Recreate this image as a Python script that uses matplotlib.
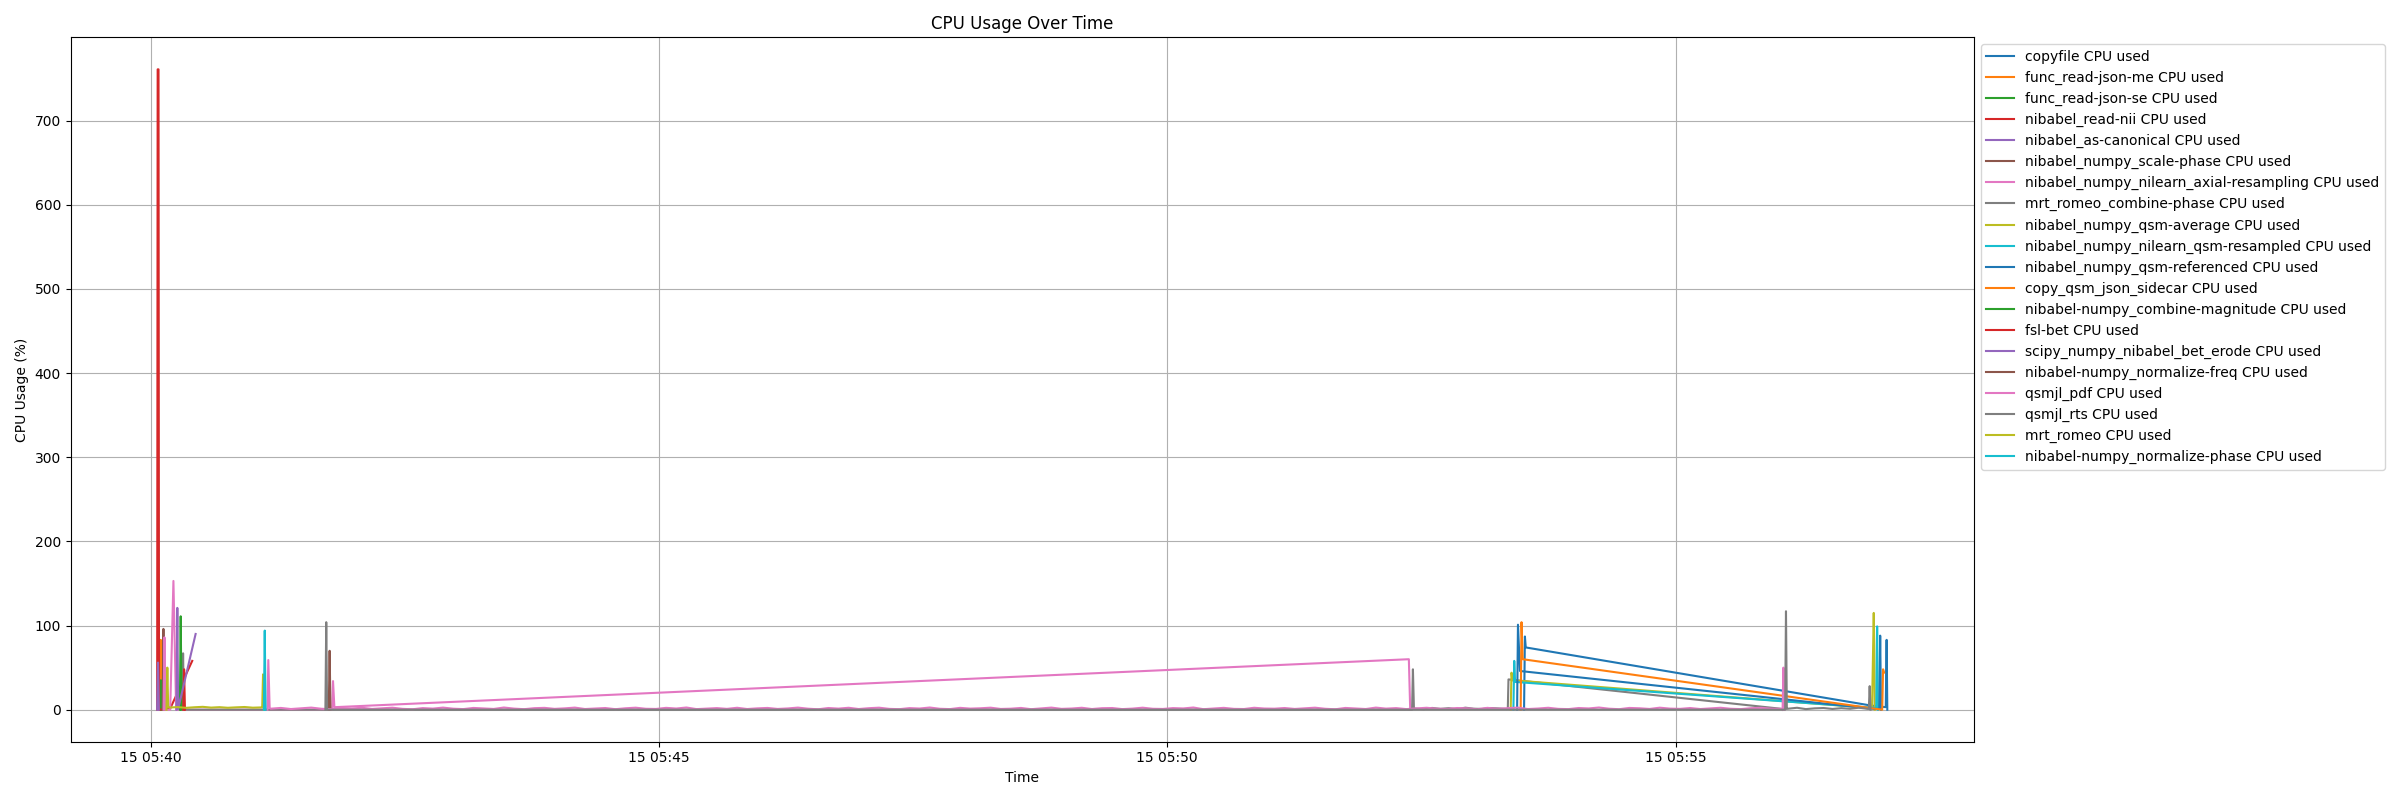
import datetime as dt
import numpy as np
import matplotlib.pyplot as plt

# sample times are seconds after 05:40:00, values are CPU %
start = dt.datetime(2024, 3, 15, 5, 40, 0)

copyfile_t = [810.6, 811.1, 811.6, 1015.2, 1024.1, 1024.6, 1025.0]
copyfile_v = [0, 87, 74, 5, 3, 83, 0]
read_json_me_t = [5.4, 5.9, 6.4]
read_json_me_v = [0, 83, 0]
read_json_se_t = [5.6, 6.0, 6.5]
read_json_se_v = [0, 35, 0]
read_nii_t = [3.8, 4.1, 4.6, 4.9, 11.4, 24.5]
read_nii_v = [0, 761, 761, 0, 1, 58]
as_canonical_t = [3.8, 4.3, 4.8]
as_canonical_v = [0, 56, 0]
scale_phase_t = [7.0, 7.5, 8.0]
scale_phase_v = [0, 96, 0]
axial_t = [7.6, 8.1, 8.6, 11.5, 13.4, 15.0, 107.1, 107.6, 108.4, 742.6, 743.4]
axial_v = [0, 86, 0, 0, 153, 0, 0, 34, 3, 60, 0]
combine_phase_t = [18.6, 19.1, 19.6, 744.5, 745.0, 745.6]
combine_phase_v = [0, 67, 0, 0, 48, 1]
combine_phase_idle = [1.4, 0.6, 2.1, 1.0, 1.8, 0.7, 2.4, 1.2, 0.9, 2.0, 1.5, 0.8]
combine_phase_end_t = [801.0, 801.4, 962.8, 963.2]
combine_phase_end_v = [1, 36, 1, 0]
qsm_average_t = [802.7, 803.2, 803.7, 1016.0, 1017.0, 1017.3, 1017.6]
qsm_average_v = [0, 44, 35, 2, 115, 75, 0]
qsm_resampled_t = [804.3, 804.8, 805.3, 1018.5, 1019.0, 1019.5]
qsm_resampled_v = [0, 58, 33, 2, 99, 0]
qsm_referenced_t = [806.5, 807.0, 808.2, 1017.0, 1020.3, 1020.8, 1021.3]
qsm_referenced_v = [0, 101, 46, 1, 1, 88, 0]
sidecar_t = [808.6, 809.1, 809.8, 1022.0, 1022.5, 1023.1]
sidecar_v = [0, 104, 60, 0, 48, 44]
combine_magnitude_t = [17.2, 17.7, 18.2]
combine_magnitude_v = [0, 111, 0]
fsl_bet_t = [19.2, 19.7, 20.2]
fsl_bet_v = [0, 48, 0]
bet_erode_t = [15.2, 15.7, 16.2, 26.5]
bet_erode_v = [0, 121, 1, 90]
normalize_freq_t = [105.1, 105.6, 106.1]
normalize_freq_v = [0, 70, 0]
pdf_start_t = [68.9, 69.4, 70.2]
pdf_start_v = [0, 59, 2]
pdf_idle = [1.2, 2.1, 0.8, 1.7, 2.5, 1.1, 0.6, 2.0, 1.4, 2.3,
            0.9, 1.6, 2.4, 1.0, 0.5, 1.9, 1.3, 2.5, 1.2, 0.7,
            2.1, 1.5, 0.9, 2.6, 1.3, 0.6, 1.8, 2.2, 1.0, 1.6,
            2.5, 0.8, 1.4, 2.0, 0.6, 1.7, 2.4, 1.1, 0.9, 2.2,
            1.4, 2.6, 0.7, 1.3, 1.9, 1.0, 2.3, 0.8, 1.6, 2.1,
            0.9, 1.5, 2.5, 1.2, 0.5, 2.0, 1.3, 2.3, 0.8, 1.8,
            2.4, 1.0, 0.6, 1.9, 1.4, 2.6, 1.1, 0.7, 2.2, 1.3,
            1.7, 2.4, 0.9, 1.2, 2.1, 0.6, 1.6, 2.5, 1.0, 1.4,
            2.3, 0.8, 1.8, 2.0, 0.7, 1.3, 2.4, 1.1, 0.9, 1.9,
            1.5, 2.6, 0.6, 1.4, 2.2, 1.0, 0.8, 2.3, 1.4, 1.2,
            2.0, 0.9, 1.7, 2.4, 1.1, 0.5, 2.1, 1.5, 0.8, 2.5,
            1.3, 1.9, 0.7, 1.5, 2.3, 1.2, 0.9, 2.0, 1.6, 0.6,
            2.2, 1.1, 1.8, 2.5, 0.8, 1.4, 2.3, 1.0, 0.7, 2.0,
            1.5, 2.6, 1.2, 0.6, 2.1, 1.7, 0.9, 2.4, 1.3, 1.0,
            2.0, 0.8, 1.5, 2.3, 1.1, 0.7, 1.8, 2.2, 1.2, 0.9]
pdf_end_t = [963.2, 963.7, 964.2]
pdf_end_v = [0, 50, 0]
rts_t = [103.1, 103.6, 104.1, 964.7, 965.2, 965.7]
rts_v = [0, 104, 0, 0, 117, 1]
rts_idle = [1.2, 2.3, 0.7, 1.6, 2.0, 0.9, 1.8, 1.1, 2.4, 1.0]
rts_end_t = [1014.1, 1014.6, 1015.1]
rts_end_v = [1, 28, 0]
romeo_t = [9.3, 9.8, 10.3]
romeo_v = [0, 50, 3]
romeo_idle = [2.6, 3.1, 2.2, 2.9, 3.4, 2.5, 3.0, 2.3, 2.8, 3.2, 2.4, 2.7]
romeo_end_t = [65.8, 66.3, 66.8]
romeo_end_v = [3, 42, 0]
normalize_phase_t = [66.8, 67.3, 67.8]
normalize_phase_v = [0, 94, 0]


def idle(t0, t1, vals):
    # idle samples are evenly spaced between two known sample times
    return list(np.linspace(t0, t1, len(vals))), list(vals)


cp_it, cp_iv = idle(746.5, 800.5, combine_phase_idle)
pdf_it, pdf_iv = idle(70.8, 962.5, pdf_idle)
rts_it, rts_iv = idle(966.5, 1013.5, rts_idle)
ro_it, ro_iv = idle(11.0, 65.2, romeo_idle)

series = [
    ("copyfile", copyfile_t, copyfile_v),
    ("func_read-json-me", read_json_me_t, read_json_me_v),
    ("func_read-json-se", read_json_se_t, read_json_se_v),
    ("nibabel_read-nii", read_nii_t, read_nii_v),
    ("nibabel_as-canonical", as_canonical_t, as_canonical_v),
    ("nibabel_numpy_scale-phase", scale_phase_t, scale_phase_v),
    ("nibabel_numpy_nilearn_axial-resampling", axial_t, axial_v),
    ("mrt_romeo_combine-phase", combine_phase_t + cp_it + combine_phase_end_t,
     combine_phase_v + cp_iv + combine_phase_end_v),
    ("nibabel_numpy_qsm-average", qsm_average_t, qsm_average_v),
    ("nibabel_numpy_nilearn_qsm-resampled", qsm_resampled_t, qsm_resampled_v),
    ("nibabel_numpy_qsm-referenced", qsm_referenced_t, qsm_referenced_v),
    ("copy_qsm_json_sidecar", sidecar_t, sidecar_v),
    ("nibabel-numpy_combine-magnitude", combine_magnitude_t, combine_magnitude_v),
    ("fsl-bet", fsl_bet_t, fsl_bet_v),
    ("scipy_numpy_nibabel_bet_erode", bet_erode_t, bet_erode_v),
    ("nibabel-numpy_normalize-freq", normalize_freq_t, normalize_freq_v),
    ("qsmjl_pdf", pdf_start_t + pdf_it + pdf_end_t, pdf_start_v + pdf_iv + pdf_end_v),
    ("qsmjl_rts", rts_t + rts_it + rts_end_t, rts_v + rts_iv + rts_end_v),
    ("mrt_romeo", romeo_t + ro_it + romeo_end_t, romeo_v + ro_iv + romeo_end_v),
    ("nibabel-numpy_normalize-phase", normalize_phase_t, normalize_phase_v),
]

fig = plt.figure(figsize=(24, 8), dpi=100)
for name, secs, vals in series:
    times = [start + dt.timedelta(seconds=float(s)) for s in secs]
    plt.plot(times, vals, label=f"{name} CPU used")

plt.xlabel('Time')
plt.ylabel('CPU Usage (%)')
plt.title('CPU Usage Over Time')
plt.legend(loc='upper left', bbox_to_anchor=(1, 1))
plt.grid(True)
plt.tight_layout()
plt.savefig('out.png')
